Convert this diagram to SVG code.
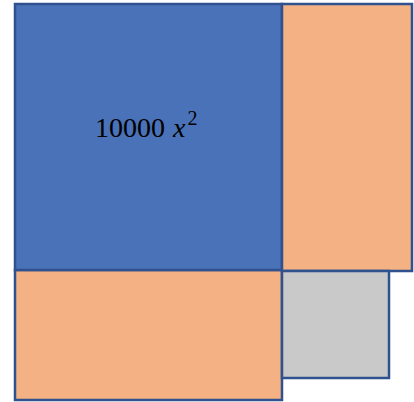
<svg xmlns="http://www.w3.org/2000/svg" width="414" height="402" viewBox="0 0 414 402">
<style>
rect{stroke:#2F528F;stroke-width:2.5}
.blue{fill:#4A72B8}
.orange{fill:#F4B183}
.gray{fill:#C9C9C9}
text{font-family:"Liberation Serif","DejaVu Serif",serif;fill:#000}
</style>
<rect width="414" height="402" fill="#fff" style="stroke:none"/>
<g id="bottom-rect"><rect class="orange" x="15" y="270" width="267" height="130"/></g>
<g id="square"><rect class="blue" x="15" y="4" width="267" height="266"/>
<text x="95" y="137" font-size="28">10000 <tspan x="173" font-style="italic">x</tspan><tspan font-size="20" dy="-12" dx="2">2</tspan></text></g>
<g id="right-rect"><rect class="orange" x="282" y="4" width="130" height="267"/></g>
<g id="corner"><rect class="gray" x="282" y="271" width="107" height="107"/></g>
</svg>
